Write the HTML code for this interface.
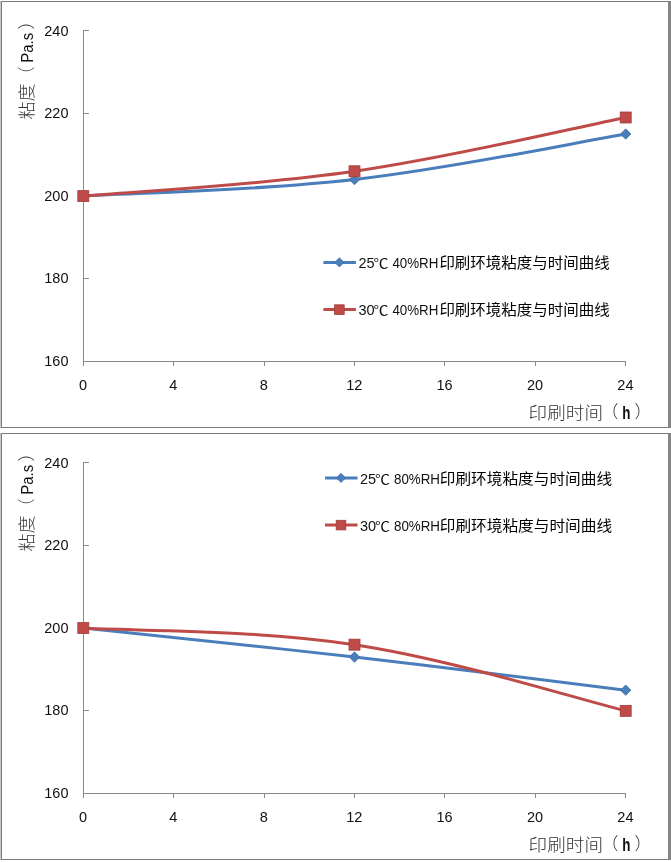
<!DOCTYPE html>
<html><head><meta charset="utf-8"><title>粘度与时间曲线</title>
<style>
html,body{margin:0;padding:0;background:#fff;}
svg{display:block;}
.num{font-family:'Liberation Sans', 'Noto Sans CJK SC', sans-serif;font-size:14.5px;fill:#111;}
.ttl{font-family:'Noto Sans CJK SC', 'WenQuanYi Zen Hei', sans-serif;font-size:17.2px;fill:#333;font-weight:300;}
.lat{font-family:'Liberation Sans', 'Noto Sans CJK SC', sans-serif;font-size:16px;fill:#111;}
.latb{font-family:'Liberation Sans', 'Noto Sans CJK SC', sans-serif;font-size:18px;font-weight:bold;fill:#111;}
.leg{font-family:'Liberation Sans', 'Noto Sans CJK SC', sans-serif;font-size:14.5px;fill:#111;}
.legd{font-family:'Noto Sans CJK SC', 'WenQuanYi Zen Hei', sans-serif;font-size:13px;fill:#111;font-weight:400;}
.legc{font-family:'Noto Sans CJK SC', 'WenQuanYi Zen Hei', sans-serif;font-size:14.6px;fill:#000;font-weight:400;}
</style></head>
<body>
<svg width="671" height="862" viewBox="0 0 671 862">
<rect width="671" height="862" fill="#fff"/>
<rect x="0" y="1" width="1" height="427" fill="#cacaca"/>
<rect x="1.5" y="1.5" width="667" height="426" fill="none" stroke="#7a7a7a" stroke-width="1"/>
<rect x="668" y="1" width="3" height="427" fill="#858585"/>
<line x1="83.5" y1="30" x2="83.5" y2="366" stroke="#8a8a8a" stroke-width="1"/>
<line x1="83" y1="361.5" x2="626" y2="361.5" stroke="#8a8a8a" stroke-width="1"/>
<line x1="83" y1="30.50" x2="89" y2="30.50" stroke="#8a8a8a" stroke-width="1"/>
<text x="68.50" y="36.00" class="num" text-anchor="end">240</text>
<line x1="83" y1="113.50" x2="89" y2="113.50" stroke="#8a8a8a" stroke-width="1"/>
<text x="68.50" y="118.40" class="num" text-anchor="end">220</text>
<line x1="83" y1="196.50" x2="89" y2="196.50" stroke="#8a8a8a" stroke-width="1"/>
<text x="68.50" y="200.80" class="num" text-anchor="end">200</text>
<line x1="83" y1="278.50" x2="89" y2="278.50" stroke="#8a8a8a" stroke-width="1"/>
<text x="68.50" y="283.20" class="num" text-anchor="end">180</text>
<line x1="83" y1="361.50" x2="89" y2="361.50" stroke="#8a8a8a" stroke-width="1"/>
<text x="68.50" y="365.60" class="num" text-anchor="end">160</text>
<line x1="83.5" y1="361" x2="83.5" y2="366" stroke="#8a8a8a" stroke-width="1"/>
<text x="83.00" y="390.00" class="num" text-anchor="middle">0</text>
<line x1="173.5" y1="361" x2="173.5" y2="366" stroke="#8a8a8a" stroke-width="1"/>
<text x="173.40" y="390.00" class="num" text-anchor="middle">4</text>
<line x1="264.5" y1="361" x2="264.5" y2="366" stroke="#8a8a8a" stroke-width="1"/>
<text x="263.80" y="390.00" class="num" text-anchor="middle">8</text>
<line x1="354.5" y1="361" x2="354.5" y2="366" stroke="#8a8a8a" stroke-width="1"/>
<text x="354.20" y="390.00" class="num" text-anchor="middle">12</text>
<line x1="444.5" y1="361" x2="444.5" y2="366" stroke="#8a8a8a" stroke-width="1"/>
<text x="444.60" y="390.00" class="num" text-anchor="middle">16</text>
<line x1="535.5" y1="361" x2="535.5" y2="366" stroke="#8a8a8a" stroke-width="1"/>
<text x="535.00" y="390.00" class="num" text-anchor="middle">20</text>
<line x1="625.5" y1="361" x2="625.5" y2="366" stroke="#8a8a8a" stroke-width="1"/>
<text x="625.40" y="390.00" class="num" text-anchor="middle">24</text>
<text x="528.60" y="418.50" class="ttl" textLength="74.5" lengthAdjust="spacingAndGlyphs">印刷时间</text>
<text x="601.20" y="417.50" class="ttl">（</text>
<text x="622.30" y="418.80" class="latb" textLength="8.2" lengthAdjust="spacingAndGlyphs">h</text>
<text x="634.50" y="417.50" class="ttl">）</text>
<g transform="translate(33.2,119.5) rotate(-90)"><text x="0.00" y="0.00" class="ttl" textLength="36" lengthAdjust="spacingAndGlyphs">粘度</text><text x="36.00" y="0.00" class="ttl">（</text><text x="56.70" y="-0.60" class="lat" textLength="30" lengthAdjust="spacingAndGlyphs">Pa.s</text><text x="90.00" y="0.00" class="ttl">）</text></g>
<path d="M83.30,196.10 C133.47,193.04 254.16,191.03 354.50,179.55 C454.84,168.07 575.53,142.46 625.70,134.04" fill="none" stroke="#4a7ebb" stroke-width="3" stroke-linecap="round"/>
<path d="M83.30,196.10 C133.47,191.51 254.16,185.82 354.50,171.28 C454.84,156.73 575.53,127.44 625.70,117.49" fill="none" stroke="#be4b48" stroke-width="3" stroke-linecap="round"/>
<path d="M83.30,190.90 L88.50,196.10 L83.30,201.30 L78.10,196.10Z" fill="#4a7ebb" stroke="#3d6fa8" stroke-width="0.8"/>
<path d="M354.50,174.35 L359.70,179.55 L354.50,184.75 L349.30,179.55Z" fill="#4a7ebb" stroke="#3d6fa8" stroke-width="0.8"/>
<path d="M625.70,128.84 L630.90,134.04 L625.70,139.24 L620.50,134.04Z" fill="#4a7ebb" stroke="#3d6fa8" stroke-width="0.8"/>
<rect x="77.80" y="190.60" width="11" height="11" fill="#be4b48" stroke="#a33d3a" stroke-width="0.8"/>
<rect x="349.00" y="165.78" width="11" height="11" fill="#be4b48" stroke="#a33d3a" stroke-width="0.8"/>
<rect x="620.20" y="111.99" width="11" height="11" fill="#be4b48" stroke="#a33d3a" stroke-width="0.8"/>
<line x1="323.4" y1="262.4" x2="355.9" y2="262.4" stroke="#4a7ebb" stroke-width="3"/>
<path d="M339.40,257.80 L344.00,262.40 L339.40,267.00 L334.80,262.40Z" fill="#4a7ebb" stroke="#3d6fa8" stroke-width="0.8"/>
<text x="358.40" y="268.00" class="leg">25</text>
<text x="373.40" y="268.00" class="legd" textLength="15" lengthAdjust="spacingAndGlyphs">℃</text>
<text x="392.40" y="268.00" class="leg" textLength="46.0" lengthAdjust="spacingAndGlyphs">40%RH</text>
<text x="439.40" y="268.00" class="legc" textLength="170.3" lengthAdjust="spacingAndGlyphs">印刷环境粘度与时间曲线</text>
<line x1="323.4" y1="309.4" x2="355.9" y2="309.4" stroke="#be4b48" stroke-width="3"/>
<rect x="334.60" y="304.80" width="9.6" height="9.6" fill="#be4b48" stroke="#a33d3a" stroke-width="0.8"/>
<text x="358.40" y="315.00" class="leg">30</text>
<text x="373.40" y="315.00" class="legd" textLength="15" lengthAdjust="spacingAndGlyphs">℃</text>
<text x="392.40" y="315.00" class="leg" textLength="46.0" lengthAdjust="spacingAndGlyphs">40%RH</text>
<text x="439.40" y="315.00" class="legc" textLength="170.3" lengthAdjust="spacingAndGlyphs">印刷环境粘度与时间曲线</text>
<rect x="0" y="433" width="1" height="427" fill="#cacaca"/>
<rect x="1.5" y="433.5" width="667" height="426" fill="none" stroke="#7a7a7a" stroke-width="1"/>
<rect x="668" y="433" width="3" height="427" fill="#858585"/>
<line x1="83.5" y1="462" x2="83.5" y2="798" stroke="#8a8a8a" stroke-width="1"/>
<line x1="83" y1="793.5" x2="626" y2="793.5" stroke="#8a8a8a" stroke-width="1"/>
<line x1="83" y1="462.50" x2="89" y2="462.50" stroke="#8a8a8a" stroke-width="1"/>
<text x="68.50" y="468.00" class="num" text-anchor="end">240</text>
<line x1="83" y1="545.50" x2="89" y2="545.50" stroke="#8a8a8a" stroke-width="1"/>
<text x="68.50" y="550.40" class="num" text-anchor="end">220</text>
<line x1="83" y1="628.50" x2="89" y2="628.50" stroke="#8a8a8a" stroke-width="1"/>
<text x="68.50" y="632.80" class="num" text-anchor="end">200</text>
<line x1="83" y1="710.50" x2="89" y2="710.50" stroke="#8a8a8a" stroke-width="1"/>
<text x="68.50" y="715.20" class="num" text-anchor="end">180</text>
<line x1="83" y1="793.50" x2="89" y2="793.50" stroke="#8a8a8a" stroke-width="1"/>
<text x="68.50" y="797.60" class="num" text-anchor="end">160</text>
<line x1="83.5" y1="793" x2="83.5" y2="798" stroke="#8a8a8a" stroke-width="1"/>
<text x="83.00" y="822.00" class="num" text-anchor="middle">0</text>
<line x1="173.5" y1="793" x2="173.5" y2="798" stroke="#8a8a8a" stroke-width="1"/>
<text x="173.40" y="822.00" class="num" text-anchor="middle">4</text>
<line x1="264.5" y1="793" x2="264.5" y2="798" stroke="#8a8a8a" stroke-width="1"/>
<text x="263.80" y="822.00" class="num" text-anchor="middle">8</text>
<line x1="354.5" y1="793" x2="354.5" y2="798" stroke="#8a8a8a" stroke-width="1"/>
<text x="354.20" y="822.00" class="num" text-anchor="middle">12</text>
<line x1="444.5" y1="793" x2="444.5" y2="798" stroke="#8a8a8a" stroke-width="1"/>
<text x="444.60" y="822.00" class="num" text-anchor="middle">16</text>
<line x1="535.5" y1="793" x2="535.5" y2="798" stroke="#8a8a8a" stroke-width="1"/>
<text x="535.00" y="822.00" class="num" text-anchor="middle">20</text>
<line x1="625.5" y1="793" x2="625.5" y2="798" stroke="#8a8a8a" stroke-width="1"/>
<text x="625.40" y="822.00" class="num" text-anchor="middle">24</text>
<text x="528.60" y="850.50" class="ttl" textLength="74.5" lengthAdjust="spacingAndGlyphs">印刷时间</text>
<text x="601.20" y="849.50" class="ttl">（</text>
<text x="622.30" y="850.80" class="latb" textLength="8.2" lengthAdjust="spacingAndGlyphs">h</text>
<text x="634.50" y="849.50" class="ttl">）</text>
<g transform="translate(33.2,551.5) rotate(-90)"><text x="0.00" y="0.00" class="ttl" textLength="36" lengthAdjust="spacingAndGlyphs">粘度</text><text x="36.00" y="0.00" class="ttl">（</text><text x="56.70" y="-0.60" class="lat" textLength="30" lengthAdjust="spacingAndGlyphs">Pa.s</text><text x="90.00" y="0.00" class="ttl">）</text></g>
<path d="M83.30,628.10 C133.47,633.46 254.16,645.58 354.50,657.06 C454.84,668.54 575.53,684.04 625.70,690.16" fill="none" stroke="#4a7ebb" stroke-width="3" stroke-linecap="round"/>
<path d="M83.30,628.10 C133.47,631.16 254.16,629.34 354.50,644.65 C454.84,659.96 575.53,698.60 625.70,710.85" fill="none" stroke="#be4b48" stroke-width="3" stroke-linecap="round"/>
<path d="M83.30,622.90 L88.50,628.10 L83.30,633.30 L78.10,628.10Z" fill="#4a7ebb" stroke="#3d6fa8" stroke-width="0.8"/>
<path d="M354.50,651.86 L359.70,657.06 L354.50,662.26 L349.30,657.06Z" fill="#4a7ebb" stroke="#3d6fa8" stroke-width="0.8"/>
<path d="M625.70,684.96 L630.90,690.16 L625.70,695.36 L620.50,690.16Z" fill="#4a7ebb" stroke="#3d6fa8" stroke-width="0.8"/>
<rect x="77.80" y="622.60" width="11" height="11" fill="#be4b48" stroke="#a33d3a" stroke-width="0.8"/>
<rect x="349.00" y="639.15" width="11" height="11" fill="#be4b48" stroke="#a33d3a" stroke-width="0.8"/>
<rect x="620.20" y="705.35" width="11" height="11" fill="#be4b48" stroke="#a33d3a" stroke-width="0.8"/>
<line x1="325" y1="477.9" x2="357.5" y2="477.9" stroke="#4a7ebb" stroke-width="3"/>
<path d="M341.00,473.30 L345.60,477.90 L341.00,482.50 L336.40,477.90Z" fill="#4a7ebb" stroke="#3d6fa8" stroke-width="0.8"/>
<text x="360.00" y="483.50" class="leg">25</text>
<text x="375.00" y="483.50" class="legd" textLength="15" lengthAdjust="spacingAndGlyphs">℃</text>
<text x="394.00" y="483.50" class="leg" textLength="46.0" lengthAdjust="spacingAndGlyphs">80%RH</text>
<text x="439.80" y="483.50" class="legc" textLength="172.3" lengthAdjust="spacingAndGlyphs">印刷环境粘度与时间曲线</text>
<line x1="325" y1="524.9" x2="357.5" y2="524.9" stroke="#be4b48" stroke-width="3"/>
<rect x="336.20" y="520.30" width="9.6" height="9.6" fill="#be4b48" stroke="#a33d3a" stroke-width="0.8"/>
<text x="360.00" y="530.50" class="leg">30</text>
<text x="375.00" y="530.50" class="legd" textLength="15" lengthAdjust="spacingAndGlyphs">℃</text>
<text x="394.00" y="530.50" class="leg" textLength="46.0" lengthAdjust="spacingAndGlyphs">80%RH</text>
<text x="439.80" y="530.50" class="legc" textLength="172.3" lengthAdjust="spacingAndGlyphs">印刷环境粘度与时间曲线</text>
</svg>
</body></html>
